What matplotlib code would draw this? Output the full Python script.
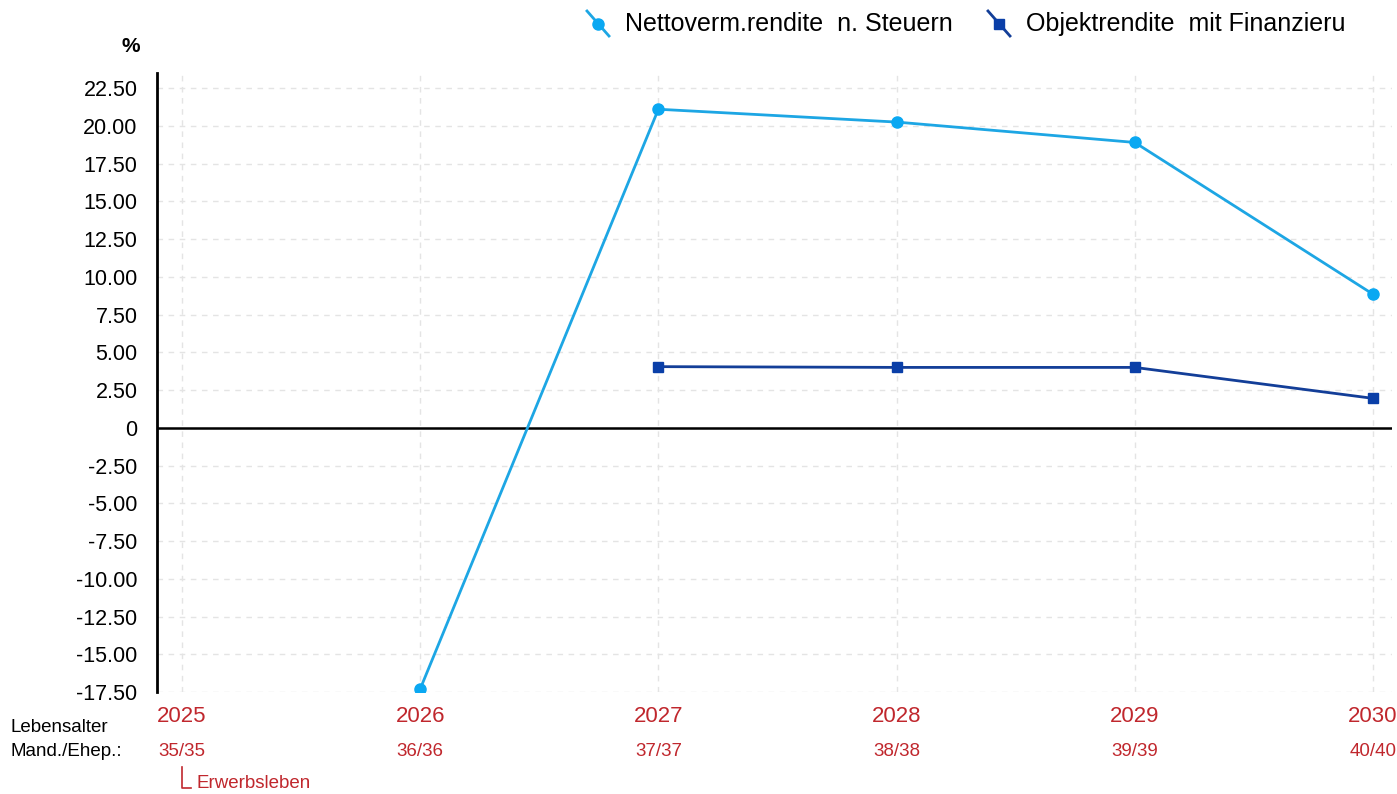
import matplotlib.pyplot as plt
from matplotlib.lines import Line2D

plt.rcParams['font.family'] = ['Liberation Sans', 'DejaVu Sans']

# Renditeverlauf je Jahr
years = [2025, 2026, 2027, 2028, 2029, 2030]
ages = ['35/35', '36/36', '37/37', '38/38', '39/39', '40/40']

netto_years = [2026, 2027, 2028, 2029, 2030]
netto_rendite = [-17.3, 21.1, 20.25, 18.9, 8.85]

objekt_years = [2027, 2028, 2029, 2030]
objekt_rendite = [4.05, 4.0, 4.0, 1.95]

yticks = [22.5, 20, 17.5, 15, 12.5, 10, 7.5, 5, 2.5, 0, -2.5, -5, -7.5,
          -10, -12.5, -15, -17.5]

c_netto = '#1DA6E4'
c_netto_mk = '#0AA8F2'
c_objekt = '#133E98'
c_objekt_mk = '#0A3FA8'
c_red = '#C0272D'

W, H = 1397, 794
fig = plt.figure(figsize=(W / 100, H / 100), dpi=100)
ax = fig.add_axes([157 / W, 1 - 692 / H, (1392 - 157) / W, (692 - 73) / H])

ax.plot(netto_years, netto_rendite, color=c_netto, lw=2, marker='o',
        ms=8, mfc=c_netto_mk, mec=c_netto_mk, zorder=4)
ax.plot(objekt_years, objekt_rendite, color=c_objekt, lw=2, marker='s',
        ms=7.5, mfc=c_objekt_mk, mec=c_objekt_mk, zorder=4)

ax.axhline(0, color='black', lw=1.8, zorder=3)

ax.set_xlim(2024.895, 2030.08)
ax.set_ylim(-17.5, 23.5)
ax.set_yticks(yticks)
ax.set_yticklabels(['0' if v == 0 else f'{v:.2f}' for v in yticks],
                   fontsize=15.5)
ax.set_xticks(years)
ax.set_xticklabels([])
ax.tick_params(axis='both', length=0)
ax.tick_params(axis='y', pad=14)

ax.grid(True, color='#E4E4E4', ls=(0, (4, 4)), lw=1)
for s in ['top', 'right', 'bottom']:
    ax.spines[s].set_visible(False)
ax.spines['left'].set_linewidth(2)

# Jahres- und Altersbeschriftung unter der Achse
for yr, age in zip(years, ages):
    ax.annotate(str(yr), (yr, 0), xycoords=('data', 'axes fraction'),
                xytext=(0, -10), textcoords='offset points',
                ha='center', va='top', fontsize=16, color=c_red)
    ax.annotate(age, (yr, 0), xycoords=('data', 'axes fraction'),
                xytext=(0, -37), textcoords='offset points',
                ha='center', va='top', fontsize=13.5, color=c_red)

fig.text(10 / W, 1 - 727 / H, 'Lebensalter', fontsize=13.5, va='center')
fig.text(10 / W, 1 - 752 / H, 'Mand./Ehep.:', fontsize=13.5, va='center')
fig.text(197 / W, 1 - 783 / H, 'Erwerbsleben', fontsize=13.5, va='center',
         color=c_red)
fig.add_artist(Line2D([182 / W, 182 / W, 191 / W],
                      [1 - 767 / H, 1 - 788 / H, 1 - 788 / H],
                      color=c_red, lw=1.2))

fig.text(131 / W, 1 - 47 / H, '%', fontsize=15, fontweight='bold',
         ha='center', va='center')

# Legende oben
def legend_item(x0, label, color, mk_color, marker, ms):
    fig.add_artist(Line2D([x0 / W, (x0 + 22) / W],
                          [1 - 11 / H, 1 - 36 / H], color=color, lw=2))
    fig.add_artist(Line2D([(x0 + 11) / W], [1 - 23.5 / H], marker=marker,
                          ms=ms, color=mk_color, lw=0))
    fig.text((x0 + 38) / W, 1 - 24 / H, label, fontsize=18, va='center')

legend_item(587, 'Nettoverm.rendite  n. Steuern', c_netto, c_netto_mk, 'o', 8)
legend_item(988, 'Objektrendite  mit Finanzieru', c_objekt, c_objekt_mk, 's', 7)

fig.savefig('out.png', dpi=100)
